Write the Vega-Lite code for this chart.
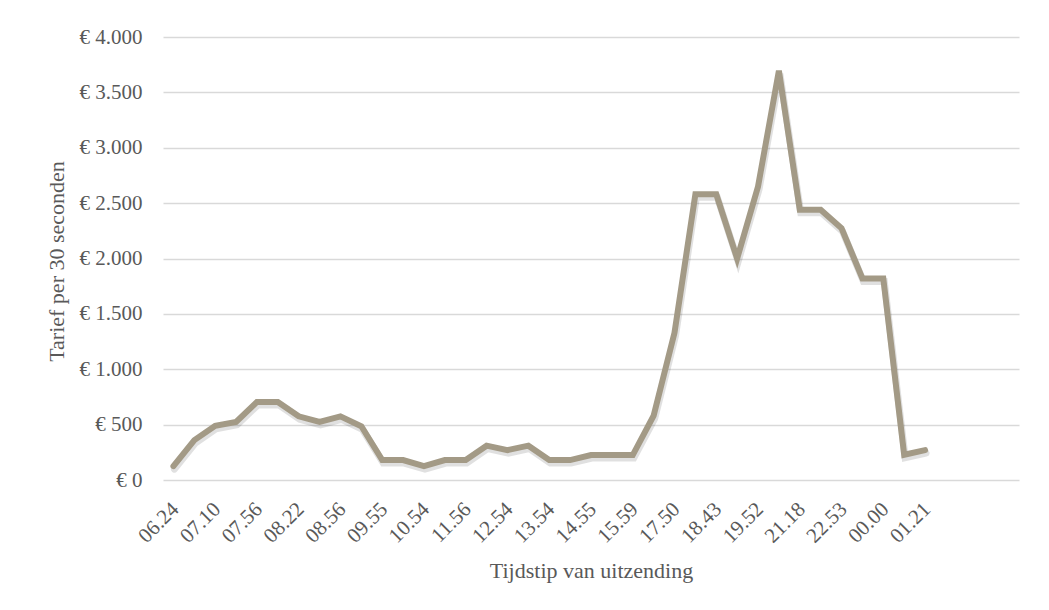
{
  "$schema": "https://vega.github.io/schema/vega-lite/v6.json",
  "autosize": {"type": "none"},
  "width": 856,
  "height": 443,
  "padding": {"left": 163, "top": 37, "right": 30, "bottom": 130},
  "background": "white",
  "config": {
    "view": {"stroke": null},
    "font": "Liberation Serif",
    "axis": {
      "labelFont": "Liberation Serif",
      "titleFont": "Liberation Serif",
      "labelColor": "#595959",
      "titleColor": "#595959",
      "labelFontSize": 21,
      "titleFontSize": 22,
      "titleFontWeight": "normal",
      "gridColor": "#d9d9d9",
      "gridWidth": 1.5,
      "ticks": false
    }
  },
  "data": {
    "values": [
      {"i": 0, "tijd": "06.24", "tarief": 125},
      {"i": 1, "tijd": "", "tarief": 360},
      {"i": 2, "tijd": "07.10", "tarief": 490},
      {"i": 3, "tijd": "", "tarief": 525},
      {"i": 4, "tijd": "07.56", "tarief": 705},
      {"i": 5, "tijd": "", "tarief": 705},
      {"i": 6, "tijd": "08.22", "tarief": 575},
      {"i": 7, "tijd": "", "tarief": 525},
      {"i": 8, "tijd": "08.56", "tarief": 575},
      {"i": 9, "tijd": "", "tarief": 485},
      {"i": 10, "tijd": "09.55", "tarief": 180},
      {"i": 11, "tijd": "", "tarief": 180},
      {"i": 12, "tijd": "10.54", "tarief": 125},
      {"i": 13, "tijd": "", "tarief": 180},
      {"i": 14, "tijd": "11.56", "tarief": 180},
      {"i": 15, "tijd": "", "tarief": 310},
      {"i": 16, "tijd": "12.54", "tarief": 270},
      {"i": 17, "tijd": "", "tarief": 310},
      {"i": 18, "tijd": "13.54", "tarief": 180},
      {"i": 19, "tijd": "", "tarief": 180},
      {"i": 20, "tijd": "14.55", "tarief": 225},
      {"i": 21, "tijd": "", "tarief": 225},
      {"i": 22, "tijd": "15.59", "tarief": 225},
      {"i": 23, "tijd": "", "tarief": 580},
      {"i": 24, "tijd": "17.50", "tarief": 1330},
      {"i": 25, "tijd": "", "tarief": 2580},
      {"i": 26, "tijd": "18.43", "tarief": 2580},
      {"i": 27, "tijd": "", "tarief": 2000},
      {"i": 28, "tijd": "19.52", "tarief": 2650},
      {"i": 29, "tijd": "", "tarief": 3695},
      {"i": 30, "tijd": "21.18", "tarief": 2440},
      {"i": 31, "tijd": "", "tarief": 2440},
      {"i": 32, "tijd": "22.53", "tarief": 2272},
      {"i": 33, "tijd": "", "tarief": 1820},
      {"i": 34, "tijd": "00.00", "tarief": 1820},
      {"i": 35, "tijd": "", "tarief": 228},
      {"i": 36, "tijd": "01.21", "tarief": 270}
    ]
  },
  "encoding": {
    "x": {
      "field": "i",
      "type": "quantitative",
      "scale": {"domain": [-0.5, 40.5], "nice": false, "zero": false},
      "axis": {
        "title": "Tijdstip van uitzending",
        "values": [0, 2, 4, 6, 8, 10, 12, 14, 16, 18, 20, 22, 24, 26, 28, 30, 32, 34, 36],
        "labelExpr": "['06.24','07.10','07.56','08.22','08.56','09.55','10.54','11.56','12.54','13.54','14.55','15.59','17.50','18.43','19.52','21.18','22.53','00.00','01.21'][datum.value / 2]",
        "labelAngle": -45,
        "labelOverlap": false,
        "labelPadding": 18,
        "labelOffset": -6,
        "grid": false,
        "domain": false,
        "titlePadding": 14
      }
    },
    "y": {
      "field": "tarief",
      "type": "quantitative",
      "scale": {"domain": [0, 4000], "nice": false},
      "axis": {
        "title": "Tarief per 30 seconden",
        "values": [0, 500, 1000, 1500, 2000, 2500, 3000, 3500, 4000],
        "labelExpr": "'€ ' + replace(format(datum.value, ','), ',', '.')",
        "labelPadding": 21,
        "domain": false,
        "titleX": -100,
        "titleY": 224,
        "titleBaseline": "alphabetic",
        "titleAngle": -90,
        "titleAlign": "center"
      }
    }
  },
  "layer": [
    {
      "mark": {"type": "line", "color": "#000000", "opacity": 0.12, "strokeWidth": 7, "strokeCap": "round", "strokeJoin": "miter", "xOffset": 1, "yOffset": 3}
    },
    {
      "mark": {"type": "line", "color": "#A39A86", "strokeWidth": 6, "strokeCap": "round", "strokeJoin": "miter"}
    }
  ]
}
